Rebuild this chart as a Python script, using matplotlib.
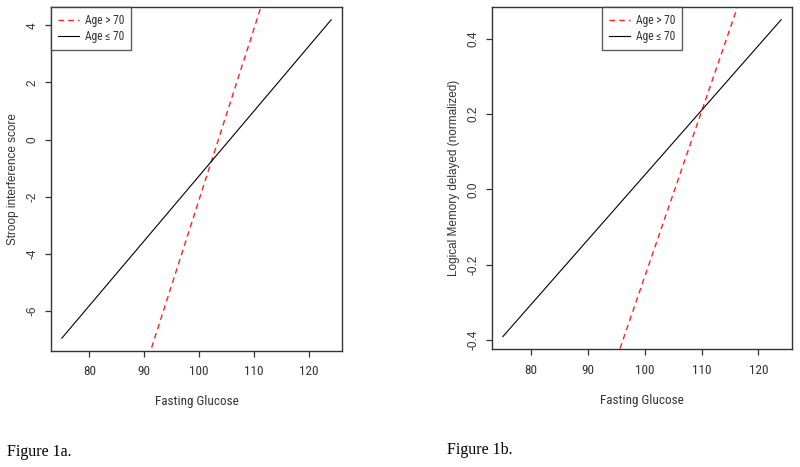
import matplotlib
matplotlib.use("Agg")
import matplotlib.pyplot as plt
from matplotlib import font_manager

# ---- data ----
glucose = [75, 124]
# Figure 1a: Stroop interference score
stroop_young = [-6.97, 4.20]     # Age <= 70
stroop_old = [-17.12, 12.33]     # Age > 70
# Figure 1b: Logical Memory delayed (normalized)
memory_young = [-0.392, 0.452]   # Age <= 70
memory_old = [-1.331, 0.824]     # Age > 70

label_old = "Age > 70"
label_young = "Age \u2264 70"
xlabel = "Fasting Glucose"
ylabel_a = "Stroop interference score"
ylabel_b = "Logical Memory delayed (normalized)"
xticks = [80, 90, 100, 110, 120]
yticks_a = [-6, -4, -2, 0, 2, 4]
yticks_b = [-0.4, -0.2, 0.0, 0.2, 0.4]
caption_a = "Figure 1a."
caption_b = "Figure 1b."

names = {f.name for f in font_manager.fontManager.ttflist}
narrow = "Liberation Sans"
for cand in ["Liberation Sans Narrow", "Arial Narrow", "Roboto Condensed", "PT Sans Narrow",
             "Archivo Narrow", "Open Sans Condensed", "Asap Condensed"]:
    if cand in names:
        narrow = cand
        break
NARROW = [narrow, "Liberation Sans", "DejaVu Sans"]
SANS = ["Liberation Sans", "DejaVu Sans"]
SERIF = ["Liberation Serif", "DejaVu Serif"]

AX = "#333333"
W, H = 800, 467
fig = plt.figure(figsize=(8, 4.67), dpi=100)


def rlim(vals):
    lo, hi = min(vals), max(vals)
    d = (hi - lo) * 0.04
    return lo - d, hi + d


def panel(rect, young, old, ylab, yticks, yfmt, legloc, anchor):
    ax = fig.add_axes(rect)
    ax.plot(glucose, old, color="#ff2020", lw=1.0, ls=(0, (4, 3)), label=label_old)
    ax.plot(glucose, young, color="black", lw=0.8, label=label_young)
    ax.set_xlim(*rlim(glucose))
    ax.set_ylim(*rlim(young))
    for s in ax.spines.values():
        s.set_color(AX)
        s.set_linewidth(1.0)
    ax.set_xticks(xticks)
    ax.set_xticklabels([str(v) for v in xticks], family=NARROW, fontsize=9.5, color=AX)
    ax.set_yticks(yticks)
    ax.set_yticklabels([yfmt(v) for v in yticks], family=SANS, fontsize=8.5, color=AX,
                       rotation=90, va="center", ha="right")
    ax.tick_params(axis="both", length=4.3, width=0.9, color=AX)
    ax.tick_params(axis="x", pad=6)
    ax.tick_params(axis="y", pad=4.5)
    ax.set_xlabel(xlabel, family=NARROW, fontsize=9.5, color=AX)
    ax.set_ylabel(ylab, family=SANS, fontsize=8.5, color=AX)
    ax.xaxis.label.set_va("center")
    ax.yaxis.label.set_va("center")
    hpx = rect[3] * H
    wpx = rect[2] * W
    ax.xaxis.set_label_coords(0.5, -51 / hpx)
    ax.yaxis.set_label_coords(-38 / wpx, 0.5)
    leg = ax.legend(loc=legloc, bbox_to_anchor=anchor, borderaxespad=0,
                    prop={"family": NARROW, "size": 8.3}, frameon=True, fancybox=False,
                    handlelength=1.8, handletextpad=0.55, labelspacing=0.3,
                    borderpad=0.6)
    leg.get_frame().set_edgecolor(AX)
    leg.get_frame().set_linewidth(1.0)
    for t in leg.get_texts():
        t.set_color(AX)
    return ax


panel([51 / W, 1 - 351 / H, (342 - 51) / W, (351 - 7) / H],
      stroop_young, stroop_old, ylabel_a, yticks_a, lambda v: f"{v:g}",
      "upper left", (0, 1))
panel([491.7 / W, 1 - 349.3 / H, (792.3 - 491.7) / W, (349.3 - 7) / H],
      memory_young, memory_old, ylabel_b, yticks_b, lambda v: f"{v:.1f}",
      "upper center", (0.5, 1))

fig.text(7 / W, 1 - 451.7 / H, caption_a, family=SERIF, fontsize=11.5, va="center", ha="left")
fig.text(446.7 / W, 1 - 450 / H, caption_b, family=SERIF, fontsize=11.5, va="center", ha="left")

fig.savefig("out.png", dpi=100)
